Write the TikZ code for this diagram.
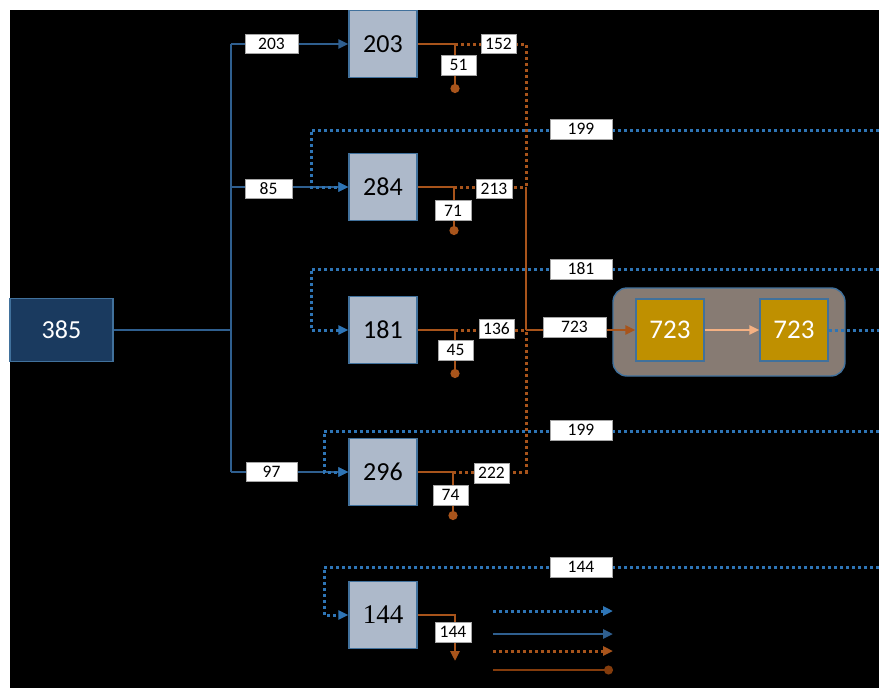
\documentclass[tikz,border=0pt]{standalone}
\usepackage{fontspec}
\setmainfont{Carlito}
\newfontfamily\serifnum{Liberation Serif}
\usetikzlibrary{arrows.meta}
\definecolor{bsol}{HTML}{2F5F8F}
\definecolor{bdotc}{HTML}{2E75B6}
\definecolor{oran}{HTML}{A8541B}
\definecolor{orandk}{HTML}{843C0C}
\definecolor{lightar}{HTML}{F4B183}
\definecolor{boxfill}{HTML}{ADB9CA}
\definecolor{boxline}{HTML}{41719C}
\definecolor{srcfill}{HTML}{1A3A5F}
\definecolor{grpfill}{HTML}{877B73}
\definecolor{goldfill}{HTML}{BF9000}
\definecolor{lblline}{HTML}{A6A6A6}
\begin{document}
\begin{tikzpicture}[x=1pt,y=-1pt,
  proc/.style={draw=boxline, line width=1.4pt, fill=boxfill, minimum width=68pt, minimum height=67pt, inner sep=0pt, text=black, font=\fontsize{26}{26}\selectfont},
  src/.style={draw=boxline, line width=1.2pt, fill=srcfill, minimum width=103pt, minimum height=63pt, inner sep=0pt, text=white, font=\fontsize{26}{26}\selectfont},
  grp/.style={draw=boxline, line width=1.4pt, fill=grpfill, minimum width=232pt, minimum height=88pt, rounded corners=14pt, inner sep=0pt},
  gold/.style={draw=boxline, line width=1.2pt, fill=goldfill, minimum width=68pt, minimum height=62pt, inner sep=0pt, text=white, font=\fontsize{27}{27}\selectfont},
  lbl/.style={draw=lblline, fill=white, line width=0.9pt, inner sep=0pt, minimum height=19pt, text=black, font=\fontsize{17.5}{17.5}\selectfont},
  bsolid/.style={draw=bsol, line width=2.6pt},
  bdot/.style={draw=bdotc, line width=3pt, dash pattern=on 3pt off 3pt},
  osolid/.style={draw=oran, line width=2.6pt},
  odot/.style={draw=oran, line width=3pt, dash pattern=on 3pt off 3pt},
  tip/.style={-{Triangle[length=10pt,width=9pt]}},
  dottip/.style={-{Circle[length=9pt]}}
]
\fill[white] (0,0) rectangle (879,688);
\fill[black] (10,10) rectangle (879,688);
\useasboundingbox (0,0) rectangle (879,688);

% boxes
\node[src] (s385) at (61.5,330) {385};
\node[proc] (b203) at (383,44) {203};
\node[proc] (b284) at (383,187) {284};
\node[proc] (b181) at (383,330) {181};
\node[proc] (b296) at (383,472) {296};
\node[proc, font=\serifnum\fontsize{27}{27}\selectfont] (b144) at (383,615) {144};
\node[grp] (grp) at (729,332) {};
\node[gold] (y1) at (670,330) {723};
\node[gold] (y2) at (794,330) {723};

% coordinates
\coordinate (jn) at (231,330);
\coordinate (jt) at (231,44);
\coordinate (j2) at (231,187);
\coordinate (jb) at (231,472);
\coordinate (f1) at (879,130); \coordinate (f1c) at (311,130);
\coordinate (f2) at (879,269); \coordinate (f2c) at (311,269);
\coordinate (f3) at (879,431); \coordinate (f3c) at (324,431);
\coordinate (f4) at (879,567); \coordinate (f4c) at (324,567);
\coordinate (o1) at (455,44);  \coordinate (d1) at (455,93);
\coordinate (o2) at (454,187); \coordinate (d2) at (454,235);
\coordinate (o3) at (455,330); \coordinate (d3) at (455,378);
\coordinate (o4) at (453,472); \coordinate (d4) at (453,520);
\coordinate (o5) at (455,615); \coordinate (d5) at (455,661);
\coordinate (c1) at (526,44);
\coordinate (c2) at (526,187);
\coordinate (c3) at (526,330);
\coordinate (c4) at (526,472);
\coordinate (oe) at (879,330);
\coordinate (l1a) at (493,611); \coordinate (l1b) at (613,611);
\coordinate (l2a) at (493,634); \coordinate (l2b) at (613,634);
\coordinate (l3a) at (493,651); \coordinate (l3b) at (613,651);
\coordinate (l4a) at (493,670); \coordinate (l4b) at (613,670);

% blue solid trunk
\draw[bsolid] (s385.east) -- (jn);
\draw[bsolid] (jt) -- (jb);
\draw[bsolid,tip] (jt) -- (b203.west);
\draw[bsolid,tip] (j2) -- (b284.west);
\draw[bsolid,tip] (jb) -- (b296.west);

% blue dotted feedbacks
\draw[bdot,tip] (f1) -- (f1c) |- (b284.west);
\draw[bdot,tip] (f2) -- (f2c) |- (b181.west);
\draw[bdot,tip] (f3) -- (f3c) |- (b296.west);
\draw[bdot,tip] (f4) -- (f4c) |- (b144.west);

% orange
\draw[osolid] (b203.east) -- (o1);
\draw[osolid,dottip] (o1) -- (d1);
\draw[odot] (o1) -- (c1) -- (c2);
\draw[osolid] (b284.east) -- (o2);
\draw[osolid,dottip] (o2) -- (d2);
\draw[odot] (o2) -- (c2);
\draw[osolid] (c2) -- (c3);
\draw[osolid] (b181.east) -- (o3);
\draw[osolid,dottip] (o3) -- (d3);
\draw[odot] (o3) -- (c3);
\draw[osolid] (b296.east) -- (o4);
\draw[osolid,dottip] (o4) -- (d4);
\draw[odot] (o4) -- (c4) -- (c3);
\draw[osolid,tip] (b144.east) -- (o5) -- (d5);
\draw[osolid,tip] (c3) -- (y1.west);
\draw[draw=lightar, line width=2.6pt, tip] (y1.east) -- (y2.west);
\draw[bdot] (y2.east) -- (oe);

% legend
\draw[bdot,tip] (l1a) -- (l1b);
\draw[bsolid,tip] (l2a) -- (l2b);
\draw[odot,tip] (l3a) -- (l3b);
\draw[draw=orandk, line width=1.4pt, {-Circle[length=9pt]}] (l4a) -- (l4b);

% labels
\node[lbl, minimum width=53pt] (n203) at (271.5,44) {203};
\node[lbl, minimum width=47pt] (n85) at (268.5,189) {85};
\node[lbl, minimum width=51pt] (n97) at (271.5,471.5) {97};
\node[lbl, minimum width=35pt] (n152) at (498.5,43.5) {152};
\node[lbl, minimum width=35pt, minimum height=20pt] (n51) at (458.5,65) {51};
\node[lbl, minimum width=36pt] (n213) at (494,188.5) {213};
\node[lbl, minimum width=36pt, minimum height=20pt] (n71) at (453,210.5) {71};
\node[lbl, minimum width=35pt] (n136) at (496.5,328.5) {136};
\node[lbl, minimum width=35pt, minimum height=20pt] (n45) at (455.5,350) {45};
\node[lbl, minimum width=35pt, minimum height=20pt] (n222) at (491.5,473) {222};
\node[lbl, minimum width=35pt, minimum height=20pt] (n74) at (450.5,495) {74};
\node[lbl, minimum width=36pt, minimum height=20pt] (n144s) at (453,632) {144};
\node[lbl, minimum width=62pt, minimum height=20pt] (n199a) at (581,129) {199};
\node[lbl, minimum width=62pt, minimum height=20pt] (n181) at (581,269) {181};
\node[lbl, minimum width=62pt, minimum height=20pt] (n199b) at (581,430) {199};
\node[lbl, minimum width=62pt, minimum height=20pt] (n144b) at (581,567) {144};
\node[lbl, minimum width=63pt, minimum height=20pt] (n723) at (574.5,327) {723};
\end{tikzpicture}
\end{document}
